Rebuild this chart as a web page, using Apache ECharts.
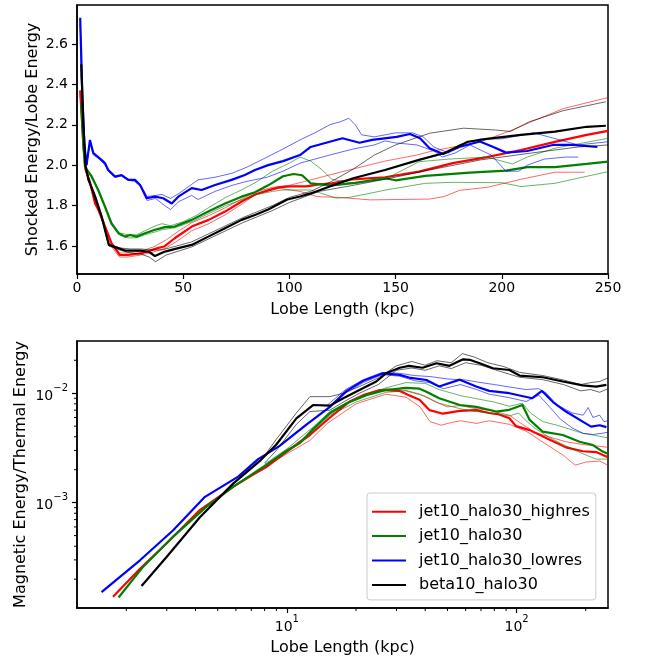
<!DOCTYPE html>
<html>
<head>
<meta charset="utf-8">
<script src="https://cdn.jsdelivr.net/npm/echarts@6/dist/echarts.min.js"></script>
<style>html,body{margin:0;padding:0;background:#fff}#c{width:648px;height:658px}</style>
</head>
<body>
<div id="c"></div>
<script>
// ---------- names / ticks ----------
const runNames = ['jet10_halo30_highres', 'jet10_halo30', 'jet10_halo30_lowres', 'beta10_halo30'];
const runColors = ['#ff0000', '#008000', '#0000ff', '#000000'];
const topXTicks = [0, 50, 100, 150, 200, 250];
const logXMinor = [2,3,4,5,6,7,8,9,20,30,40,50,60,70,80,90,200];
const logYMinor = [2e-4,3e-4,4e-4,5e-4,6e-4,7e-4,8e-4,9e-4,2e-3,3e-3,4e-3,5e-3,6e-3,7e-3,8e-3,9e-3,2e-2];

// ---------- top panel: Shocked Energy / Lobe Energy vs lobe length (kpc) ----------
const topRedMain = [[1.5,2.37],[3,2.1],[4,1.98],[6,1.92],[8.5,1.81],[10,1.78],[13.2,1.696],[16.3,1.613],[20.2,1.555],[24,1.555],[30.4,1.564],[38,1.589],[41,1.597],[46,1.638],[54,1.696],[62,1.729],[69.7,1.77],[77.5,1.82],[83.8,1.855],[90,1.875],[95,1.89],[100,1.895],[108,1.895],[114,1.905],[120,1.91],[130,1.93],[145,1.94],[161,1.968],[177,2.01],[193,2.04],[209,2.075],[225,2.115],[240,2.15],[250,2.17]];
const topRedThinA = [[1.5,2.35],[4,1.97],[8,1.87],[12,1.74],[16,1.62],[20,1.565],[24,1.565],[30,1.575],[36,1.595],[42,1.63],[48,1.675],[54,1.715],[62,1.75],[70,1.79],[78,1.835],[85,1.87],[92,1.89],[100,1.9],[110,1.927],[125,1.968],[145,2.02],[160,2.05],[166,2.067],[190,2.116],[205,2.174],[214,2.215],[229,2.28],[250,2.335]];
const topRedThinB = [[1.5,2.35],[4,1.97],[8,1.86],[12,1.73],[16,1.6],[20,1.545],[24,1.545],[30,1.555],[36,1.57],[42,1.59],[48,1.63],[54,1.675],[62,1.71],[70,1.755],[78,1.81],[85,1.86],[95,1.885],[105,1.87],[113,1.844],[124,1.84],[138,1.828],[166,1.832],[173,1.845],[180,1.875],[193,1.89],[209,1.93],[225,1.965],[239,1.965]];

const topGreenMain = [[2,2.3],[3,2.1],[3.8,1.99],[6.9,1.943],[10,1.877],[13.2,1.795],[16.3,1.712],[19.5,1.663],[22.6,1.646],[25,1.654],[28,1.646],[32,1.663],[36.7,1.68],[41.4,1.693],[46,1.696],[54,1.729],[61.8,1.77],[69.7,1.81],[77.5,1.844],[83.8,1.866],[90,1.9],[97,1.945],[102,1.956],[106,1.95],[110,1.91],[120,1.9],[131,1.912],[145,1.935],[150,1.925],[164,1.947],[185,1.963],[202,1.973],[212,1.99],[225,1.99],[240,2.006],[250,2.017]];
const topGreenThinA = [[2,2.3],[4,1.99],[7,1.95],[10,1.88],[13,1.8],[16,1.715],[20,1.665],[24,1.655],[28,1.655],[32,1.675],[37,1.7],[40,1.71],[44,1.7],[50,1.72],[56,1.75],[62,1.79],[70,1.84],[78,1.88],[85,1.92],[92,1.97],[100,2.01],[105,2.04],[110,2.02],[115,1.98],[120,1.93],[131,1.91],[145,1.93],[161,2.017],[175,2.03],[193,2.04],[205,2.006],[212,2.04],[225,2.084],[250,2.133]];
const topGreenThinB = [[2,2.3],[4,1.99],[7,1.94],[10,1.87],[13,1.79],[16,1.705],[20,1.655],[24,1.64],[28,1.64],[32,1.655],[37,1.67],[40,1.68],[46,1.69],[54,1.72],[62,1.76],[70,1.8],[78,1.83],[85,1.855],[92,1.87],[97,1.877],[110,1.877],[122,1.837],[128,1.84],[147,1.88],[164,1.91],[177,1.915],[200,1.913],[209,1.894],[225,1.91],[250,1.968]];

const topBlueMain = [[1.5,2.73],[2.5,2.35],[3.5,2.1],[4.5,2.0],[6.1,2.125],[7.7,2.059],[10,2.04],[13.2,2.01],[14.7,1.976],[17.9,1.943],[21,1.951],[24.2,1.927],[27.3,1.927],[29.7,1.902],[32.8,1.836],[36.7,1.844],[40.6,1.836],[44.6,1.81],[47.7,1.844],[54,1.886],[58.7,1.877],[65,1.902],[72.8,1.927],[79,1.951],[83.8,1.976],[90,2.0],[97,2.02],[105,2.05],[110,2.09],[119,2.116],[125,2.133],[133,2.111],[139,2.125],[150.5,2.14],[156.8,2.154],[161.5,2.133],[166,2.084],[172.4,2.055],[180,2.09],[189.7,2.117],[196,2.09],[202,2.062],[212,2.07],[224,2.1],[233.5,2.1],[245,2.09]];
const topBlueThinA = [[1.5,2.7],[2.5,2.33],[3.5,2.1],[4.5,2.0],[6.1,2.12],[7.7,2.06],[10,2.04],[13.2,2.0],[14.7,1.97],[17.9,1.945],[21,1.95],[24,1.93],[27,1.925],[30,1.9],[33,1.845],[37,1.85],[40,1.855],[44,1.835],[48,1.86],[54,1.905],[57,1.927],[65,1.94],[73,1.96],[80,1.99],[89.5,2.04],[97,2.08],[105,2.125],[112,2.16],[119,2.2],[124,2.215],[128,2.232],[131,2.2],[134,2.15],[140,2.14],[150,2.16],[158,2.16],[163,2.14],[168,2.09],[175,2.06],[180,2.1],[190,2.13],[200,2.13],[215,2.16],[222,2.14],[236,2.1],[250,2.116]];
const topBlueThinB = [[1.5,2.7],[2.5,2.33],[3.5,2.1],[4.5,2.0],[6.1,2.11],[7.7,2.05],[10,2.035],[13.2,2.005],[14.7,1.97],[17.9,1.94],[21,1.945],[24,1.925],[27,1.92],[30,1.895],[33,1.825],[37,1.835],[40,1.81],[44,1.78],[48,1.82],[54,1.85],[57,1.83],[65,1.87],[73,1.9],[80,1.92],[89.5,1.94],[97,1.97],[105,2.01],[112,2.03],[119,2.05],[130,2.08],[140,2.1],[145,2.12],[150,2.11],[160,2.1],[168,2.07],[172,2.04],[178,2.06],[185,2.1],[195,2.05],[202,1.97],[208,1.97],[212,2.0],[220,2.03],[230,2.04],[236,2.04]];

const topBlackMain = [[2,2.5],[3,2.2],[4,2.0],[5.3,1.93],[8.5,1.845],[11.6,1.745],[14,1.646],[15,1.605],[19.5,1.589],[22.6,1.577],[30,1.577],[34,1.57],[36.7,1.55],[41.4,1.572],[47.7,1.589],[54,1.605],[61.8,1.646],[69.7,1.688],[77.5,1.729],[83.8,1.753],[90,1.78],[99,1.83],[105,1.845],[110,1.86],[119,1.894],[130,1.935],[145,1.976],[161,2.026],[173,2.06],[184,2.116],[193,2.13],[209,2.15],[225,2.166],[240,2.19],[249,2.195]];
const topBlackThinA = [[2,2.45],[4,1.99],[8,1.85],[11.6,1.75],[14,1.65],[15,1.61],[20,1.59],[25,1.585],[30,1.585],[35,1.58],[40,1.58],[47,1.6],[54,1.62],[62,1.66],[70,1.7],[78,1.74],[85,1.77],[92,1.8],[100,1.84],[110,1.87],[120,1.92],[130,1.98],[140,2.05],[150,2.1],[166,2.158],[182,2.183],[197,2.174],[204,2.167],[213,2.215],[229,2.27],[249,2.314]];
const topBlackThinB = [[2,2.45],[4,1.99],[8,1.84],[11.6,1.74],[14,1.64],[15,1.6],[20,1.58],[25,1.565],[30,1.56],[34,1.545],[37,1.522],[42,1.555],[48,1.575],[54,1.595],[62,1.635],[70,1.675],[78,1.715],[85,1.745],[92,1.775],[100,1.815],[114,1.87],[130,1.9],[145,1.93],[166,1.976],[190,2.026],[214,2.06],[236,2.09],[250,2.1]];

// ---------- bottom panel: Magnetic / Thermal energy vs lobe length (log-log) ----------
const botRedMain = [[1.75,1.38e-4],[2.3,2.5e-4],[3.0,4.25e-4],[4.19,8.6e-4],[5.85,1.4e-3],[7.1,1.8e-3],[8.1,2.1e-3],[10,2.93e-3],[12.6,4.15e-3],[15.4,6.0e-3],[18.8,8.4e-3],[21.5,9.6e-3],[25.4,1.07e-2],[31,1.05e-2],[34,9.6e-3],[37.8,8.7e-3],[41.8,7.0e-3],[47.8,6.5e-3],[56.6,6.9e-3],[66.7,7.0e-3],[76,6.6e-3],[84,6.4e-3],[93,5.9e-3],[99.5,5.0e-3],[114,4.6e-3],[138,3.8e-3],[164,3.2e-3],[194,2.95e-3],[222,2.9e-3],[250,2.6e-3]];
const botRedThinA = [[8,2.1e-3],[10,2.8e-3],[12.6,3.7e-3],[15,5.3e-3],[20,8e-3],[27,9.8e-3],[33,9.2e-3],[38,7.5e-3],[42,5.5e-3],[47,5.1e-3],[52,5.4e-3],[57,5.6e-3],[67,5.3e-3],[76,5.6e-3],[93,5.2e-3],[110,4.5e-3],[138,3.3e-3],[160,2.7e-3],[180,2.2e-3],[200,2.35e-3],[230,2.4e-3],[250,2.2e-3]];
const botRedThinB = [[8,2.15e-3],[10,3.0e-3],[12.6,4.3e-3],[15,6.2e-3],[20,9e-3],[27,1.1e-2],[33,1.06e-2],[38,9.8e-3],[44,8.4e-3],[50,7.5e-3],[57,7.7e-3],[67,7.2e-3],[76,7e-3],[93,6.3e-3],[106,5.2e-3],[120,4.4e-3],[138,4e-3],[164,3.6e-3],[194,3.4e-3],[222,3.3e-3],[250,3.2e-3]];

const botGreenMain = [[1.85,1.36e-4],[2.37,2.6e-4],[3.2,4.9e-4],[4.47,9.2e-4],[5.85,1.4e-3],[8.1,2.2e-3],[10,3.0e-3],[11.4,3.5e-3],[13,4.7e-3],[15.4,6.6e-3],[18.2,8.1e-3],[22.2,9.6e-3],[27,1.07e-2],[33,1.12e-2],[37.8,1.1e-2],[40.5,1.03e-2],[46,9e-3],[56.6,7.8e-3],[66.7,7.5e-3],[81.5,6.8e-3],[93,7.05e-3],[106,7.8e-3],[114,5.7e-3],[130,4.45e-3],[159,4.15e-3],[188,3.6e-3],[215,3.36e-3],[237,2.93e-3],[250,2.8e-3]];
const botGreenThinA = [[8,2.25e-3],[10,3.1e-3],[13,4.9e-3],[15.4,6.8e-3],[20,9e-3],[27,1.12e-2],[33,1.25e-2],[40,1.23e-2],[46,1.08e-2],[57,9.5e-3],[67,8.9e-3],[80,8.3e-3],[93,7.6e-3],[106,8.1e-3],[115,6.6e-3],[130,5.5e-3],[150,5.1e-3],[170,4.7e-3],[194,4.3e-3],[222,4.1e-3],[250,3.9e-3]];
const botGreenThinB = [[8,2.15e-3],[10,2.9e-3],[13,4.5e-3],[15.4,6.3e-3],[20,8.3e-3],[27,1.02e-2],[33,1.05e-2],[40,9.4e-3],[46,8.1e-3],[57,7.2e-3],[67,6.8e-3],[80,6.5e-3],[93,6.2e-3],[102,6.6e-3],[110,5.6e-3],[120,4.8e-3],[140,3.9e-3],[164,3.3e-3],[194,2.8e-3],[222,2.5e-3],[250,2.5e-3]];

const botBlueMain = [[1.56,1.52e-4],[2.3,2.99e-4],[3.2,5.6e-4],[4.4,1.13e-3],[6.14,1.73e-3],[7.5,2.5e-3],[9.3,3.3e-3],[12.2,5.2e-3],[15.4,7.5e-3],[18.2,1.05e-2],[21.5,1.3e-2],[26.2,1.52e-2],[31,1.47e-2],[34,1.39e-2],[40.5,1.32e-2],[46,1.15e-2],[56.6,1.33e-2],[66.7,1.15e-2],[76,1.05e-2],[93,1.0e-2],[117,9e-3],[129,1.05e-2],[144,8.3e-3],[164,6.8e-3],[194,5.5e-3],[211,4.95e-3],[230,5.1e-3],[246,4.9e-3]];
const botBlueThinA = [[15,7.8e-3],[18,1.08e-2],[21.5,1.33e-2],[26,1.55e-2],[31,1.52e-2],[36,1.45e-2],[42,1.42e-2],[50,1.35e-2],[60,1.32e-2],[70,1.25e-2],[80,1.2e-2],[93,1.14e-2],[110,1.08e-2],[125,1.1e-2],[135,1.0e-2],[150,7.8e-3],[175,6.6e-3],[195,6.3e-3],[205,7.4e-3],[215,6.0e-3],[230,6.3e-3],[240,5.5e-3],[250,5.6e-3]];
const botBlueThinB = [[15,7.2e-3],[18,1.0e-2],[21.5,1.25e-2],[26,1.48e-2],[31,1.43e-2],[36,1.3e-2],[42,1.25e-2],[48,1.1e-2],[57,1.2e-2],[67,1.08e-2],[76,9.8e-3],[93,9.1e-3],[110,8.4e-3],[125,9.6e-3],[140,7.4e-3],[155,5.8e-3],[175,4.8e-3],[195,4.3e-3],[215,4.2e-3],[235,4.3e-3],[250,4.4e-3]];

const botBlackMain = [[2.33,1.73e-4],[3.0,3.2e-4],[4.19,7.4e-4],[5.85,1.5e-3],[7.7,2.45e-3],[9,3.4e-3],[11,5.9e-3],[13,7.8e-3],[15.4,7.7e-3],[17.6,9e-3],[20.7,1.07e-2],[24.5,1.28e-2],[27,1.52e-2],[31,1.71e-2],[34,1.78e-2],[39,1.71e-2],[44.8,1.88e-2],[51,1.78e-2],[58.5,2.04e-2],[62.5,2.02e-2],[69,1.88e-2],[79,1.69e-2],[93,1.63e-2],[103,1.45e-2],[130,1.4e-2],[159,1.28e-2],[194,1.18e-2],[222,1.15e-2],[246,1.19e-2]];
const botBlackThinA = [[8,2.7e-3],[9,3.8e-3],[11,6.6e-3],[12.6,9.3e-3],[15.4,9.3e-3],[17.6,1.0e-2],[20.7,1.15e-2],[25,1.38e-2],[30,1.78e-2],[35,1.95e-2],[40,1.8e-2],[45,1.98e-2],[52,1.9e-2],[58,2.3e-2],[65,2.15e-2],[75,1.9e-2],[88,1.75e-2],[103,1.55e-2],[130,1.45e-2],[160,1.32e-2],[190,1.2e-2],[210,1.25e-2],[230,1.28e-2],[250,1.38e-2]];
const botBlackThinB = [[8,2.3e-3],[9,3.0e-3],[11,5.2e-3],[12.6,6.8e-3],[15.4,7.0e-3],[17.6,8.3e-3],[20.7,1.0e-2],[25,1.2e-2],[30,1.62e-2],[35,1.7e-2],[40,1.62e-2],[46,1.78e-2],[52,1.68e-2],[60,1.9e-2],[70,1.8e-2],[85,1.58e-2],[103,1.4e-2],[130,1.33e-2],[160,1.2e-2],[190,1.05e-2],[210,1.08e-2],[230,1.02e-2],[250,1.1e-2]];

// ---------- axis ranges ----------
const topXRange = [0, 250];
const topYRange = [1.461, 2.793];
const botXRange = [1.22, 250];
const botYRange = [1.09e-4, 0.030];

const FONT = 'DejaVu Sans';
const TICK_FS = 14;
const LABEL_FS = 16;
const topSets = [[topRedMain, topRedThinA, topRedThinB],[topGreenMain, topGreenThinA, topGreenThinB],[topBlueMain, topBlueThinA, topBlueThinB],[topBlackMain, topBlackThinA, topBlackThinB]];
const botSets = [[botRedMain, botRedThinA, botRedThinB],[botGreenMain, botGreenThinA, botGreenThinB],[botBlueMain, botBlueThinA, botBlueThinB],[botBlackMain, botBlackThinA, botBlackThinB]];

function pow10Label(v) {
  const e = Math.log10(v), r = Math.round(e);
  if (Math.abs(e - r) > 1e-6) return '';
  return '{b|10}{s|' + (r < 0 ? '\u2212' : '') + Math.abs(r) + '}';
}
const powRich = {
  b: {fontSize: TICK_FS, fontFamily: FONT, color: '#000', lineHeight: 20, verticalAlign: 'bottom'},
  s: {fontSize: 10, fontFamily: FONT, color: '#000', lineHeight: 20, verticalAlign: 'top'}
};

const axisCommon = {
  axisLine: {show: true, onZero: false, lineStyle: {color: '#000', width: 1.5}},
  axisTick: {show: true, inside: false, length: 5, lineStyle: {color: '#000', width: 1.2}},
  splitLine: {show: false},
  nameLocation: 'middle',
  nameMoveOverlap: false,
  nameTextStyle: {fontSize: LABEL_FS, fontFamily: FONT, color: '#000'}
};

const series = [];
function addSets(sets, axisIdx, prefix) {
  sets.forEach((group, i) => {
    group.forEach((data, j) => {
      series.push({
        type: 'line',
        name: j === 0 ? runNames[i] : prefix + runNames[i] + '_thin' + j,
        xAxisIndex: axisIdx, yAxisIndex: axisIdx,
        data: data,
        showSymbol: false, symbol: 'none',
        lineStyle: {color: runColors[i], width: j === 0 ? 2.2 : 0.8, opacity: j === 0 ? 1 : 0.75},
        itemStyle: {color: runColors[i]},
        emphasis: {disabled: true},
        z: 2 + i,
        silent: true,
        animation: false
      });
    });
  });
}
addSets(topSets, 0, 'top_');
addSets(botSets, 1, 'bot_');

// minor log ticks (axis decoration) drawn through the axis scales
series.push({
  type: 'custom', xAxisIndex: 1, yAxisIndex: 1, silent: true, animation: false, clip: false, z: 10,
  data: logXMinor.map(v => [v, botYRange[0]]),
  renderItem: function (params, api) {
    const p = api.coord([api.value(0), api.value(1)]);
    return {type: 'line', shape: {x1: p[0], y1: p[1], x2: p[0], y2: p[1] + 3}, style: {stroke: '#000', lineWidth: 1}};
  }
});
series.push({
  type: 'custom', xAxisIndex: 1, yAxisIndex: 1, silent: true, animation: false, clip: false, z: 10,
  data: logYMinor.map(v => [botXRange[0], v]),
  renderItem: function (params, api) {
    const p = api.coord([api.value(0), api.value(1)]);
    return {type: 'line', shape: {x1: p[0] - 3, y1: p[1], x2: p[0], y2: p[1]}, style: {stroke: '#000', lineWidth: 1}};
  }
});

const option = {
  backgroundColor: '#fff',
  animation: false,
  textStyle: {fontFamily: FONT},
  grid: [
    {left: 77, top: 5, width: 531, height: 269, show: true, borderColor: '#000', borderWidth: 1.5, backgroundColor: 'transparent'},
    {left: 77, top: 341, width: 531, height: 267, show: true, borderColor: '#000', borderWidth: 1.5, backgroundColor: 'transparent'}
  ],
  xAxis: [
    Object.assign({}, axisCommon, {
      type: 'value', gridIndex: 0, min: topXRange[0], max: topXRange[1], interval: 50,
      name: 'Lobe Length (kpc)', nameGap: 28,
      axisLabel: {fontSize: TICK_FS, fontFamily: FONT, color: '#000', margin: 7}
    }),
    Object.assign({}, axisCommon, {
      type: 'log', logBase: 10, gridIndex: 1, min: botXRange[0], max: botXRange[1], splitNumber: 2,
      name: 'Lobe Length (kpc)', nameGap: 32,
      axisLabel: {formatter: pow10Label, rich: powRich, margin: 6, showMinLabel: false, showMaxLabel: false}
    })
  ],
  yAxis: [
    Object.assign({}, axisCommon, {
      type: 'value', gridIndex: 0, min: topYRange[0], max: topYRange[1], splitNumber: 7,
      name: 'Shocked Energy/Lobe Energy', nameGap: 36,
      axisLabel: {fontSize: TICK_FS, fontFamily: FONT, color: '#000', margin: 9, showMinLabel: false, showMaxLabel: false,
        formatter: v => (Math.abs(v * 5 - Math.round(v * 5)) < 1e-6 ? v.toFixed(1) : '')}
    }),
    Object.assign({}, axisCommon, {
      type: 'log', logBase: 10, gridIndex: 1, min: botYRange[0], max: botYRange[1], splitNumber: 2,
      name: 'Magnetic Energy/Thermal Energy', nameGap: 48,
      axisLabel: {formatter: pow10Label, rich: powRich, margin: 9, showMinLabel: false, showMaxLabel: false}
    })
  ],
  legend: {
    show: true,
    data: runNames,
    orient: 'vertical',
    left: 367, top: 493,
    padding: [9.7, 6, 6, 5],
    itemGap: 6.4,
    itemWidth: 34, itemHeight: 2,
    icon: 'rect',
    backgroundColor: 'rgba(255,255,255,0.8)',
    borderColor: '#cccccc', borderWidth: 1, borderRadius: 3,
    selectedMode: false,
    textStyle: {fontSize: LABEL_FS, fontFamily: FONT, color: '#000', lineHeight: 18, padding: [0, 0, 0, 8]}
  },
  series: series
};

const chart = echarts.init(document.getElementById('c'), null, {renderer: 'canvas', width: 648, height: 658});
chart.setOption(option);
</script>
</body>
</html>
